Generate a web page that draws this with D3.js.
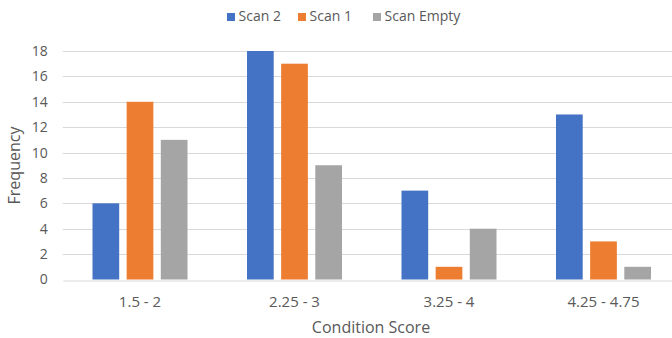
<!DOCTYPE html>
<html>
<head>
<meta charset="utf-8">
<script src="https://cdn.jsdelivr.net/npm/d3@7"></script>
<style>
  html, body { margin: 0; padding: 0; background: #fff; }
  svg { display: block; font-family: "Open Sans", "Noto Sans", sans-serif; }
</style>
</head>
<body>
<svg id="chart" width="672" height="338"></svg>
<script>
// Condition score bins and frequency per scan
const categories = ["1.5 - 2", "2.25 - 3", "3.25 - 4", "4.25 - 4.75"];
const seriesNames = ["Scan 2", "Scan 1", "Scan Empty"];
const scan2 = [6, 18, 7, 13];
const scan1 = [14, 17, 1, 3];
const scanEmpty = [11, 9, 4, 1];
const yTicks = [0, 2, 4, 6, 8, 10, 12, 14, 16, 18];
const colors = ["#4472C4", "#ED7D31", "#A5A5A5"];

const seriesValues = [scan2, scan1, scanEmpty];
const FONT = "'Open Sans', 'Noto Sans', sans-serif";

const svg = d3.select("#chart");
const plotLeft = 62.75, plotRight = 680.75;
const plotTop = 51, plotBottom = 279.5;

const x = d3.scaleBand().domain(categories).range([plotLeft, plotRight]);
const xs = d3.scaleBand().domain(seriesNames).range([0, x.bandwidth()])
  .paddingInner(0.218).paddingOuter(0.871);
const y = d3.scaleLinear().domain([0, 18]).range([plotBottom, plotTop]);

// gridlines
svg.append("g").selectAll("line").data(yTicks.slice(1)).join("line")
  .attr("x1", plotLeft).attr("x2", plotRight)
  .attr("y1", d => Math.round(y(d)) + 0.5).attr("y2", d => Math.round(y(d)) + 0.5)
  .attr("stroke", "#d9d9d9").attr("stroke-width", 1);

// y axis labels
const yAxis = d3.axisLeft(y).tickValues(yTicks).tickSize(0).tickPadding(15);
const gy = svg.append("g").attr("transform", `translate(${plotLeft},0)`).call(yAxis);
gy.select(".domain").remove();
gy.selectAll("text").attr("fill", "#595959").style("font-size", "14px").style("font-family", FONT);

// bars
const groups = svg.append("g").selectAll("g").data(categories).join("g")
  .attr("transform", d => `translate(${x(d)},0)`);
groups.selectAll("rect")
  .data((c, i) => seriesNames.map((s, j) => ({ s, v: seriesValues[j][i], j })))
  .join("rect")
  .attr("x", d => xs(d.s))
  .attr("width", xs.bandwidth())
  .attr("y", d => y(d.v))
  .attr("height", d => y(0) - y(d.v))
  .attr("fill", d => colors[d.j]);

// x axis
const xAxis = d3.axisBottom(x).tickSize(0).tickPadding(16);
const gx = svg.append("g").attr("transform", `translate(0,${Math.round(plotBottom) + 0.5})`).call(xAxis);
gx.select(".domain").attr("stroke", "#d9d9d9");
gx.selectAll("text").attr("fill", "#595959").style("font-size", "15px").style("font-family", FONT);

// axis titles
svg.append("text")
  .attr("x", 371).attr("y", 333)
  .attr("text-anchor", "middle").attr("fill", "#595959")
  .style("font-size", "16px").text("Condition Score");
svg.append("text")
  .attr("transform", `translate(20,${(128 + 203) / 2}) rotate(-90)`)
  .attr("text-anchor", "middle").attr("fill", "#595959")
  .style("font-size", "16px").text("Frequency");

// legend
const legendX = [227, 298, 373];
const legend = svg.append("g").selectAll("g").data(seriesNames).join("g")
  .attr("transform", (d, i) => `translate(${legendX[i]},13)`);
legend.append("rect").attr("width", 8).attr("height", 8).attr("fill", (d, i) => colors[i]);
legend.append("text").attr("x", 11.5).attr("y", 7.8)
  .attr("fill", "#595959").style("font-size", "14px").text(d => d);
</script>
</body>
</html>
